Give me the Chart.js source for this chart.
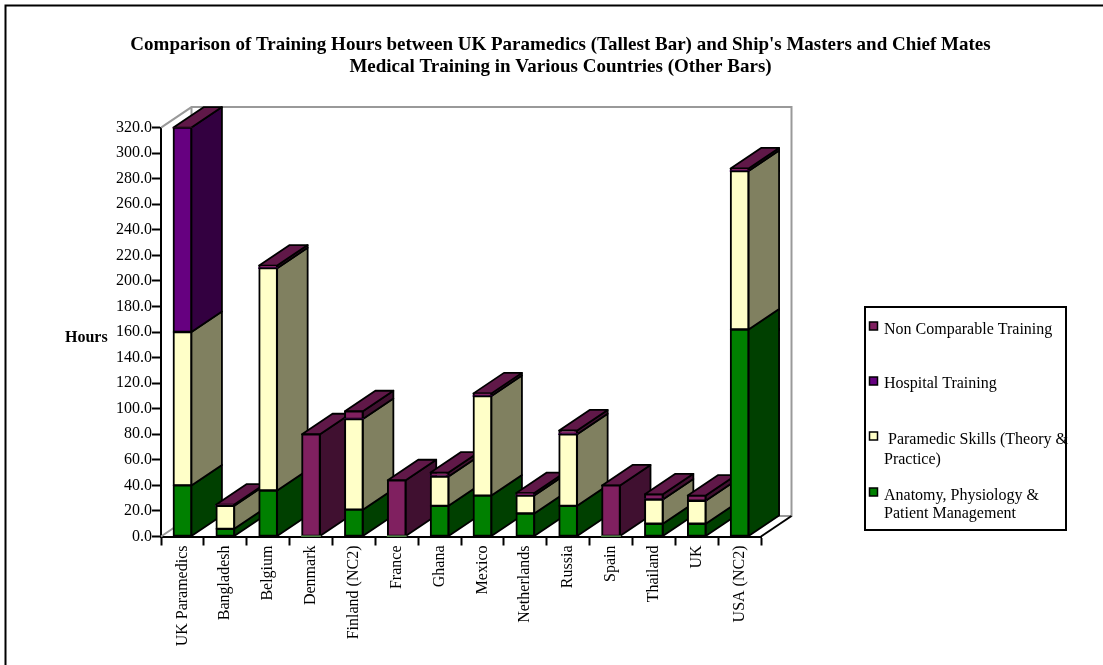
<!DOCTYPE html>
<html><head><meta charset="utf-8">
<style>html,body{margin:0;padding:0;background:#fff}canvas{position:absolute;left:0;top:0;display:block}</style>
<script src="https://cdn.jsdelivr.net/npm/chart.js@4/dist/chart.umd.min.js"></script>
</head><body><canvas id="c" width="1103" height="665"></canvas>
<script>
const categories=["UK Paramedics","Bangladesh","Belgium","Denmark","Finland (NC2)","France","Ghana","Mexico","Netherlands","Russia","Spain","Thailand","UK","USA (NC2)"];
const anatomy=[40,6,36,0,21,0,24,32,18,24,0,10,10,162];
const skills=[120,18,174,0,71,0,23,78,14,56,0,19,18,124];
const hospital=[160,0,0,0,0,0,0,0,0,0,0,0,0,0];
const nonComparable=[0,1,2,80,6,44,3,2,2,3,40,4,4,2];
const titleLines=["Comparison of Training Hours between UK Paramedics (Tallest Bar) and Ship's Masters and Chief Mates","Medical Training in Various Countries (Other Bars)"];
const legendNames=[["Non Comparable Training"],["Hospital Training"],[" Paramedic Skills (Theory &","Practice)"],["Anatomy, Physiology &","Patient Management"]];
const SERIF='"Liberation Serif","Times New Roman",serif';
const DX=30.5,DY=20.5;
const frontC={a:'#008000',s:'#FFFFC8',h:'#660080',n:'#802060'};
const sideC={a:'#004000',s:'#808060',h:'#330040',n:'#401030'};
const topC='#601848';
function poly(ctx,pts,fill,stroke,lw){ctx.beginPath();pts.forEach((p,i)=>i?ctx.lineTo(p[0],p[1]):ctx.moveTo(p[0],p[1]));ctx.closePath();if(fill){ctx.fillStyle=fill;ctx.fill();}if(stroke){ctx.strokeStyle=stroke;ctx.lineWidth=lw;ctx.lineJoin='round';ctx.stroke();}}
const depth={id:'depth',
 beforeDatasetsDraw(chart){
  const ctx=chart.ctx,x=chart.scales.x,y=chart.scales.y,L=x.left,R=x.right,T=y.top,B=y.bottom;
  ctx.save();
  ctx.strokeStyle='#999999';ctx.lineWidth=2;
  ctx.beginPath();ctx.moveTo(L,T);ctx.lineTo(L+DX,T-DY);ctx.lineTo(R+DX,T-DY);ctx.lineTo(R+DX,B-DY);ctx.lineTo(L+DX,B-DY);ctx.lineTo(L,B);
  ctx.moveTo(L+DX,T-DY);ctx.lineTo(L+DX,B-DY);ctx.stroke();
  ctx.strokeStyle='#000';ctx.beginPath();ctx.moveTo(R+DX,B-DY);ctx.lineTo(R,B);ctx.stroke();
  const keys=['a','s','h','n'];
  categories.forEach((_,i)=>{
   let topY=null,xr=0,xl=0;
   keys.forEach(k=>{
    const di=chart.data.datasets.findIndex(s=>s.key===k);
    const el=chart.getDatasetMeta(di).data[i];
    const v=chart.data.datasets[di].data[i];
    xl=el.x-el.width/2;xr=el.x+el.width/2;
    if(v>0){const b=el.base,t=el.y;
     poly(ctx,[[xr,b],[xr+DX,b-DY],[xr+DX,t-DY],[xr,t]],sideC[k],'#000',1.8);topY=t;}
   });
   poly(ctx,[[xl,topY],[xl+DX,topY-DY],[xr+DX,topY-DY],[xr,topY]],topC,'#000',1.8);
  });
  ctx.restore();
 },
 afterDraw(chart){
  const ctx=chart.ctx;ctx.save();
  ctx.strokeStyle='#000';ctx.lineWidth=2;
  ctx.beginPath();ctx.moveTo(5.5,665);ctx.lineTo(5.5,5.5);ctx.lineTo(1103,5.5);ctx.stroke();
  ctx.fillStyle='#000';ctx.textBaseline='alphabetic';ctx.textAlign='left';
  ctx.font='bold 16px '+SERIF;ctx.fillText('Hours',65,342);
  ctx.lineWidth=2;ctx.strokeRect(865,307,201,223);
  const ys=[[334],[388],[444,464],[500,518]];
  const mk=[frontC.n,frontC.h,frontC.s,frontC.a];
  const my=[322,377,432,488];
  ctx.font='16px '+SERIF;
  legendNames.forEach((lines,i)=>{
   ctx.lineWidth=1.5;ctx.strokeStyle='#000';ctx.fillStyle=mk[i];
   ctx.fillRect(869.5,my[i],8,8);ctx.strokeRect(869.5,my[i],8,8);
   ctx.fillStyle='#000';
   lines.forEach((t,j)=>ctx.fillText(t,884,ys[i][j]));
  });
  ctx.restore();
 }};
Chart.defaults.font.family=SERIF;
new Chart(document.getElementById('c'),{type:'bar',
 data:{labels:categories,datasets:[
  {key:'a',label:legendNames[3].join(' '),data:anatomy,backgroundColor:frontC.a},
  {key:'s',label:legendNames[2].join(' ').trim(),data:skills,backgroundColor:frontC.s},
  {key:'h',label:legendNames[1][0],data:hospital,backgroundColor:frontC.h},
  {key:'n',label:legendNames[0][0],data:nonComparable,backgroundColor:frontC.n}
 ].map(d=>Object.assign(d,{yAxisID:'y',borderColor:'#000',borderWidth:c=>c.raw>0?2:0,borderSkipped:false,inflateAmount:0.8,barPercentage:0.42,categoryPercentage:1}))},
 options:{responsive:false,animation:false,devicePixelRatio:1,
  layout:{padding:{left:18,right:0,top:0,bottom:0}},
  plugins:{legend:{display:false},tooltip:{enabled:false},
   title:{display:true,text:titleLines,color:'#000',font:{size:19,weight:'bold',family:SERIF,lineHeight:1.16},padding:{top:34,bottom:49.5}}},
  scales:{
   x:{stacked:true,offset:true,
    grid:{offset:true,drawOnChartArea:false,drawTicks:true,tickLength:9,tickColor:'#000',tickWidth:2},
    border:{color:'#000',width:2},
    ticks:{color:'#000',font:{size:16},minRotation:90,maxRotation:90,autoSkip:false,padding:0},
    afterFit(s){s.height=665-536.5;}},
   y:{stacked:true,min:0,max:320,
    grid:{drawOnChartArea:false,drawTicks:true,tickLength:9,tickColor:'#000',tickWidth:2},
    border:{color:'#000',width:2},
    ticks:{color:'#000',font:{size:16},stepSize:20,padding:0,callback:v=>Number(v).toFixed(1)},
    afterFit(s){s.width=161-18;}},
   legendSpace:{position:'right',min:0,max:1,grid:{display:false},border:{display:false},ticks:{display:false},afterFit(s){s.width=1103-761;}}
  }},
 plugins:[depth]});
</script></body></html>
